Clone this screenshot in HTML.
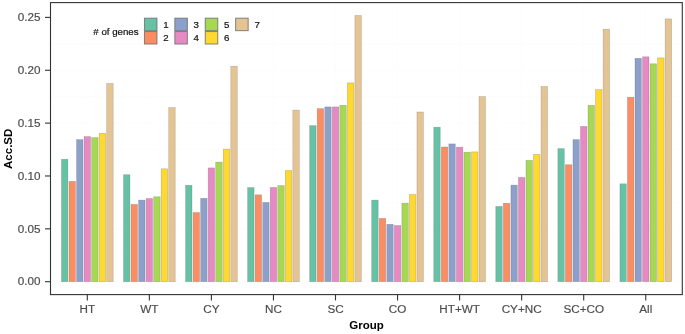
<!DOCTYPE html>
<html><head><meta charset="utf-8"><title>Acc.SD by Group</title>
<style>
html,body{margin:0;padding:0;background:#fff;}
svg{display:block;filter:blur(0.35px);font-family:"Liberation Sans",Arial,Helvetica,sans-serif;}
.ax{fill:#4d4d4d;font-size:11.7px;stroke:#4d4d4d;stroke-width:0.18px;}
.tt{fill:#000;font-size:11.5px;font-weight:bold;}
.lg{fill:#111;font-size:9.7px;stroke:#111;stroke-width:0.2px;}
</style></head><body>
<svg width="685" height="334" viewBox="0 0 685 334">
<rect width="685" height="334" fill="#fff"/>
<g stroke="#fcfcfc" stroke-width="0.6">
<line x1="50.5" x2="682.3" y1="281.7" y2="281.7"/>
<line x1="50.5" x2="682.3" y1="255.27" y2="255.27"/>
<line x1="50.5" x2="682.3" y1="228.84" y2="228.84"/>
<line x1="50.5" x2="682.3" y1="202.41" y2="202.41"/>
<line x1="50.5" x2="682.3" y1="175.98" y2="175.98"/>
<line x1="50.5" x2="682.3" y1="149.55" y2="149.55"/>
<line x1="50.5" x2="682.3" y1="123.12" y2="123.12"/>
<line x1="50.5" x2="682.3" y1="96.69" y2="96.69"/>
<line x1="50.5" x2="682.3" y1="70.26" y2="70.26"/>
<line x1="50.5" x2="682.3" y1="43.83" y2="43.83"/>
<line x1="50.5" x2="682.3" y1="17.4" y2="17.4"/>
<line x1="87.3" x2="87.3" y1="2.6" y2="294.6"/>
<line x1="149.35" x2="149.35" y1="2.6" y2="294.6"/>
<line x1="211.4" x2="211.4" y1="2.6" y2="294.6"/>
<line x1="273.45" x2="273.45" y1="2.6" y2="294.6"/>
<line x1="335.5" x2="335.5" y1="2.6" y2="294.6"/>
<line x1="397.55" x2="397.55" y1="2.6" y2="294.6"/>
<line x1="459.6" x2="459.6" y1="2.6" y2="294.6"/>
<line x1="521.65" x2="521.65" y1="2.6" y2="294.6"/>
<line x1="583.7" x2="583.7" y1="2.6" y2="294.6"/>
<line x1="645.75" x2="645.75" y1="2.6" y2="294.6"/>
</g>
<g stroke="#555" stroke-opacity="0.35" stroke-width="0.6">
<rect x="61.46" y="159.3" width="6.45" height="122.4" fill="#66C2A5"/>
<rect x="69" y="181.4" width="6.45" height="100.3" fill="#FC8D62"/>
<rect x="76.54" y="139.6" width="6.45" height="142.1" fill="#8DA0CB"/>
<rect x="84.08" y="136.6" width="6.45" height="145.1" fill="#E78AC3"/>
<rect x="91.62" y="137.6" width="6.45" height="144.1" fill="#A6D854"/>
<rect x="99.16" y="133.3" width="6.45" height="148.4" fill="#FFD92F"/>
<rect x="106.7" y="83.5" width="6.45" height="198.2" fill="#E5C494"/>
<rect x="123.51" y="174.7" width="6.45" height="107" fill="#66C2A5"/>
<rect x="131.05" y="204.4" width="6.45" height="77.3" fill="#FC8D62"/>
<rect x="138.59" y="200.1" width="6.45" height="81.6" fill="#8DA0CB"/>
<rect x="146.13" y="198.5" width="6.45" height="83.2" fill="#E78AC3"/>
<rect x="153.67" y="196.8" width="6.45" height="84.9" fill="#A6D854"/>
<rect x="161.21" y="168.8" width="6.45" height="112.9" fill="#FFD92F"/>
<rect x="168.75" y="107.6" width="6.45" height="174.1" fill="#E5C494"/>
<rect x="185.56" y="185.3" width="6.45" height="96.4" fill="#66C2A5"/>
<rect x="193.1" y="212.5" width="6.45" height="69.2" fill="#FC8D62"/>
<rect x="200.64" y="198.3" width="6.45" height="83.4" fill="#8DA0CB"/>
<rect x="208.18" y="167.9" width="6.45" height="113.8" fill="#E78AC3"/>
<rect x="215.72" y="162.1" width="6.45" height="119.6" fill="#A6D854"/>
<rect x="223.26" y="149.1" width="6.45" height="132.6" fill="#FFD92F"/>
<rect x="230.8" y="66.2" width="6.45" height="215.5" fill="#E5C494"/>
<rect x="247.61" y="187.6" width="6.45" height="94.1" fill="#66C2A5"/>
<rect x="255.15" y="194.8" width="6.45" height="86.9" fill="#FC8D62"/>
<rect x="262.69" y="202.4" width="6.45" height="79.3" fill="#8DA0CB"/>
<rect x="270.23" y="187.4" width="6.45" height="94.3" fill="#E78AC3"/>
<rect x="277.77" y="185.6" width="6.45" height="96.1" fill="#A6D854"/>
<rect x="285.31" y="170.5" width="6.45" height="111.2" fill="#FFD92F"/>
<rect x="292.85" y="110.1" width="6.45" height="171.6" fill="#E5C494"/>
<rect x="309.66" y="125.6" width="6.45" height="156.1" fill="#66C2A5"/>
<rect x="317.2" y="108.6" width="6.45" height="173.1" fill="#FC8D62"/>
<rect x="324.74" y="106.9" width="6.45" height="174.8" fill="#8DA0CB"/>
<rect x="332.28" y="106.9" width="6.45" height="174.8" fill="#E78AC3"/>
<rect x="339.82" y="105.3" width="6.45" height="176.4" fill="#A6D854"/>
<rect x="347.36" y="82.9" width="6.45" height="198.8" fill="#FFD92F"/>
<rect x="354.9" y="15.5" width="6.45" height="266.2" fill="#E5C494"/>
<rect x="371.71" y="200.1" width="6.45" height="81.6" fill="#66C2A5"/>
<rect x="379.25" y="218.4" width="6.45" height="63.3" fill="#FC8D62"/>
<rect x="386.79" y="224.3" width="6.45" height="57.4" fill="#8DA0CB"/>
<rect x="394.33" y="225.5" width="6.45" height="56.2" fill="#E78AC3"/>
<rect x="401.87" y="203.2" width="6.45" height="78.5" fill="#A6D854"/>
<rect x="409.41" y="194.5" width="6.45" height="87.2" fill="#FFD92F"/>
<rect x="416.95" y="112" width="6.45" height="169.7" fill="#E5C494"/>
<rect x="433.76" y="127.2" width="6.45" height="154.5" fill="#66C2A5"/>
<rect x="441.3" y="147" width="6.45" height="134.7" fill="#FC8D62"/>
<rect x="448.84" y="143.9" width="6.45" height="137.8" fill="#8DA0CB"/>
<rect x="456.38" y="147.2" width="6.45" height="134.5" fill="#E78AC3"/>
<rect x="463.92" y="152.2" width="6.45" height="129.5" fill="#A6D854"/>
<rect x="471.46" y="151.9" width="6.45" height="129.8" fill="#FFD92F"/>
<rect x="479" y="96.6" width="6.45" height="185.1" fill="#E5C494"/>
<rect x="495.81" y="206.4" width="6.45" height="75.3" fill="#66C2A5"/>
<rect x="503.35" y="203.3" width="6.45" height="78.4" fill="#FC8D62"/>
<rect x="510.89" y="185.1" width="6.45" height="96.6" fill="#8DA0CB"/>
<rect x="518.43" y="177.4" width="6.45" height="104.3" fill="#E78AC3"/>
<rect x="525.97" y="160.4" width="6.45" height="121.3" fill="#A6D854"/>
<rect x="533.51" y="154.4" width="6.45" height="127.3" fill="#FFD92F"/>
<rect x="541.05" y="86.5" width="6.45" height="195.2" fill="#E5C494"/>
<rect x="557.86" y="148.6" width="6.45" height="133.1" fill="#66C2A5"/>
<rect x="565.4" y="164.7" width="6.45" height="117" fill="#FC8D62"/>
<rect x="572.94" y="139.6" width="6.45" height="142.1" fill="#8DA0CB"/>
<rect x="580.48" y="126.4" width="6.45" height="155.3" fill="#E78AC3"/>
<rect x="588.02" y="105.4" width="6.45" height="176.3" fill="#A6D854"/>
<rect x="595.56" y="89.6" width="6.45" height="192.1" fill="#FFD92F"/>
<rect x="603.1" y="29.2" width="6.45" height="252.5" fill="#E5C494"/>
<rect x="619.91" y="183.8" width="6.45" height="97.9" fill="#66C2A5"/>
<rect x="627.45" y="97.2" width="6.45" height="184.5" fill="#FC8D62"/>
<rect x="634.99" y="58.3" width="6.45" height="223.4" fill="#8DA0CB"/>
<rect x="642.53" y="56.8" width="6.45" height="224.9" fill="#E78AC3"/>
<rect x="650.07" y="63.8" width="6.45" height="217.9" fill="#A6D854"/>
<rect x="657.61" y="57.9" width="6.45" height="223.8" fill="#FFD92F"/>
<rect x="665.15" y="18.9" width="6.45" height="262.8" fill="#E5C494"/>
</g>
<rect x="50.5" y="2.6" width="631.8" height="292" fill="none" stroke="#333" stroke-width="1.1"/>
<g stroke="#333" stroke-width="1.1">
<line x1="45" x2="50.5" y1="281.7" y2="281.7"/>
<line x1="45" x2="50.5" y1="228.84" y2="228.84"/>
<line x1="45" x2="50.5" y1="175.98" y2="175.98"/>
<line x1="45" x2="50.5" y1="123.12" y2="123.12"/>
<line x1="45" x2="50.5" y1="70.26" y2="70.26"/>
<line x1="45" x2="50.5" y1="17.4" y2="17.4"/>
<line x1="87.3" x2="87.3" y1="294.6" y2="300.4"/>
<line x1="149.35" x2="149.35" y1="294.6" y2="300.4"/>
<line x1="211.4" x2="211.4" y1="294.6" y2="300.4"/>
<line x1="273.45" x2="273.45" y1="294.6" y2="300.4"/>
<line x1="335.5" x2="335.5" y1="294.6" y2="300.4"/>
<line x1="397.55" x2="397.55" y1="294.6" y2="300.4"/>
<line x1="459.6" x2="459.6" y1="294.6" y2="300.4"/>
<line x1="521.65" x2="521.65" y1="294.6" y2="300.4"/>
<line x1="583.7" x2="583.7" y1="294.6" y2="300.4"/>
<line x1="645.75" x2="645.75" y1="294.6" y2="300.4"/>
</g>
<text class="ax" x="40.6" y="285.4" text-anchor="end">0.00</text>
<text class="ax" x="40.6" y="232.54" text-anchor="end">0.05</text>
<text class="ax" x="40.6" y="179.68" text-anchor="end">0.10</text>
<text class="ax" x="40.6" y="126.82" text-anchor="end">0.15</text>
<text class="ax" x="40.6" y="73.96" text-anchor="end">0.20</text>
<text class="ax" x="40.6" y="21.1" text-anchor="end">0.25</text>
<text class="ax" x="87.3" y="313" text-anchor="middle">HT</text>
<text class="ax" x="149.35" y="313" text-anchor="middle">WT</text>
<text class="ax" x="211.4" y="313" text-anchor="middle">CY</text>
<text class="ax" x="273.45" y="313" text-anchor="middle">NC</text>
<text class="ax" x="335.5" y="313" text-anchor="middle">SC</text>
<text class="ax" x="397.55" y="313" text-anchor="middle">CO</text>
<text class="ax" x="459.6" y="313" text-anchor="middle">HT+WT</text>
<text class="ax" x="521.65" y="313" text-anchor="middle">CY+NC</text>
<text class="ax" x="583.7" y="313" text-anchor="middle">SC+CO</text>
<text class="ax" x="645.75" y="313" text-anchor="middle">All</text>
<text class="tt" x="366.5" y="328.6" text-anchor="middle">Group</text>
<text class="tt" transform="translate(11.6 148.8) rotate(-90)" x="0" y="0" text-anchor="middle">Acc.SD</text>
<text class="lg" x="93.3" y="34.5">#&#160;of genes</text>
<g stroke="#6e6e6e" stroke-opacity="0.85" stroke-width="1">
<rect x="144.45" y="18.2" width="12.5" height="12.45" fill="#66C2A5"/>
<rect x="144.45" y="31.55" width="12.5" height="12.45" fill="#FC8D62"/>
<rect x="174.85" y="18.2" width="12.5" height="12.45" fill="#8DA0CB"/>
<rect x="174.85" y="31.55" width="12.5" height="12.45" fill="#E78AC3"/>
<rect x="205.25" y="18.2" width="12.5" height="12.45" fill="#A6D854"/>
<rect x="205.25" y="31.55" width="12.5" height="12.45" fill="#FFD92F"/>
<rect x="235.65" y="18.2" width="12.5" height="12.45" fill="#E5C494"/>
</g>
<text class="lg" x="163.2" y="27.85">1</text>
<text class="lg" x="163.2" y="41.2">2</text>
<text class="lg" x="193.6" y="27.85">3</text>
<text class="lg" x="193.6" y="41.2">4</text>
<text class="lg" x="224" y="27.85">5</text>
<text class="lg" x="224" y="41.2">6</text>
<text class="lg" x="254.4" y="27.85">7</text>
</svg>
</body></html>
